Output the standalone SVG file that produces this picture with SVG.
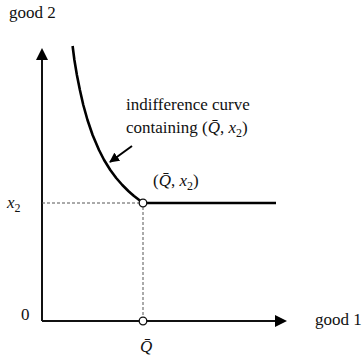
<svg xmlns="http://www.w3.org/2000/svg" width="362" height="362" viewBox="0 0 362 362">
<style>
text{font-family:"Liberation Serif","Times New Roman",serif;font-size:17px;fill:#111}
.it{font-style:italic}
.sub{font-size:12px}
.ax{stroke:#111;stroke-width:2;fill:none}
.dash{stroke:#555;stroke-width:1;stroke-dasharray:3,2;fill:none}
.curve{stroke:#000;stroke-width:2.6;fill:none;stroke-linejoin:round}
.pt{fill:#fff;stroke:#111;stroke-width:1.3}
</style>
<defs>
<marker id="ah" markerWidth="10" markerHeight="10" refX="9" refY="5" orient="auto" markerUnits="userSpaceOnUse" viewBox="0 0 10 10">
<path d="M0,0 L10,5 L0,10 z" fill="#000"/>
</marker>
<marker id="ah2" markerWidth="12" markerHeight="12" refX="10" refY="6" orient="auto" markerUnits="userSpaceOnUse" viewBox="0 0 12 12">
<path d="M0,0 L12,6 L0,12 z" fill="#000"/>
</marker>
</defs>
<g id="connectors">
<line class="ax" x1="42" y1="321" x2="42" y2="50" marker-end="url(#ah2)"/>
<line class="ax" x1="42" y1="321" x2="285" y2="321" marker-end="url(#ah2)"/>
<line class="dash" x1="42" y1="203" x2="139" y2="203"/>
<line class="dash" x1="143" y1="207" x2="143" y2="317"/>
<line x1="132" y1="146" x2="110" y2="162" stroke="#000" stroke-width="2" marker-end="url(#ah)"/>
</g>
<g id="curve">
<polyline class="curve" points="72.6,46 74.4,60 76.9,75 79.9,90 83.3,105 87.5,120 92.6,135 99,150 104.1,160 110.3,170 116.2,178 122.3,185 128.3,191 131.1,193.5 134,196 136.6,198 139.2,200 141,201.5 143,203 276,203"/>
</g>
<g id="point-top"><circle class="pt" cx="143" cy="203" r="3.8"/></g>
<g id="point-bottom"><circle class="pt" cx="143" cy="321" r="3.8"/></g>
<g id="labels">
<text x="9" y="18">good 2</text>
<text x="315" y="325">good 1</text>
<text x="21" y="320">0</text>
<text x="7" y="208" class="it">x<tspan class="sub" dy="4" font-style="normal">2</tspan></text>
<text x="140" y="352" class="it">Q̄</text>
<text x="126" y="110">indifference curve</text>
<text x="126" y="133">containing (<tspan class="it">Q̄</tspan>, <tspan class="it">x</tspan><tspan class="sub" dy="4">2</tspan><tspan dy="-4">)</tspan></text>
<text x="153" y="186">(<tspan class="it">Q̄</tspan>, <tspan class="it">x</tspan><tspan class="sub" dy="4">2</tspan><tspan dy="-4">)</tspan></text>
</g>
</svg>
